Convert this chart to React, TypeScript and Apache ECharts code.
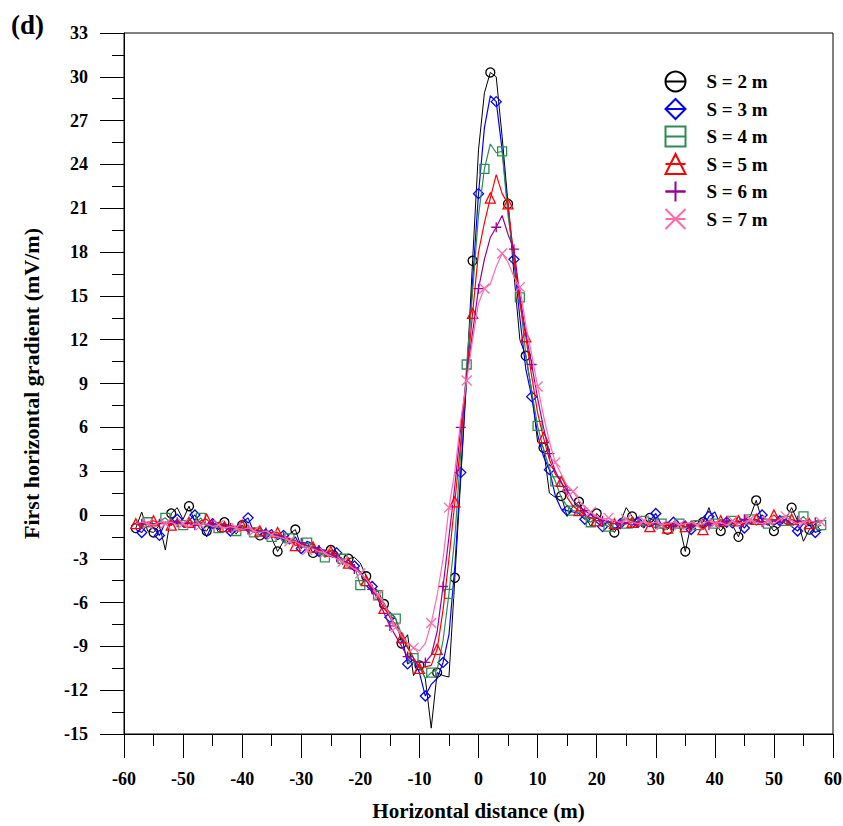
import React, { useEffect, useRef } from "react";
import * as echarts from "echarts";

// Horizontal distance (m)
const DISTANCE = [
  -58, -57, -56, -55, -54, -53, -52, -51, -50, -49,
  -48, -47, -46, -45, -44, -43, -42, -41, -40, -39,
  -38, -37, -36, -35, -34, -33, -32, -31, -30, -29,
  -28, -27, -26, -25, -24, -23, -22, -21, -20, -19,
  -18, -17, -16, -15, -14, -13, -12, -11, -10, -9,
  -8, -7, -6, -5, -4, -3, -2, -1, 0, 1,
  2, 3, 4, 5, 6, 7, 8, 9, 10, 11,
  12, 13, 14, 15, 16, 17, 18, 19, 20, 21,
  22, 23, 24, 25, 26, 27, 28, 29, 30, 31,
  32, 33, 34, 35, 36, 37, 38, 39, 40, 41,
  42, 43, 44, 45, 46, 47, 48, 49, 50, 51,
  52, 53, 54, 55, 56, 57, 58,
];

const S2 = [
  -0.9, 0.2, -1.1, -1.2, -0.7, -2.4, 0.1, 0.5, -0.3, 0.6,
  -0.5, -1.0, -1.1, -0.4, -1.2, -0.5, -0.9, -1.3, -0.7, -1.2,
  -0.9, -1.4, -1.0, -1.6, -2.5, -1.8, -1.3, -1.0, -2.2, -1.9,
  -2.6, -2.1, -2.8, -2.4, -2.5, -3.4, -3.0, -2.9, -3.3, -4.2,
  -5.4, -5.2, -6.1, -7.0, -7.1, -8.8, -8.2, -11.0, -10.3, -11.2,
  -14.6, -10.8, -11.0, -11.1, -4.3, 2.5, 9.5, 17.4, 25.0, 28.9,
  30.3, 30.0, 25.9, 21.3, 16.5, 12.0, 10.9, 8.5, 5.0, 4.6,
  1.5, 1.2, 1.3, -0.1, 0.6, 0.9, 0.0, -0.8, 0.1, -0.3,
  -0.6, -1.2, -0.5, 0.5, -0.1, -0.6, -0.9, -0.2, -0.5, -0.9,
  -1.0, -0.5, -0.7, -2.5, -0.6, -0.4, -0.5, 0.5, -0.6, -1.1,
  -0.5, -0.7, -1.5, -0.3, -0.1, 1.0, -0.4, -0.6, -1.1, -0.8,
  -0.3, 0.5, -0.4, -1.8, -1.0, -0.6, -1.1,
];

const S3 = [
  -1.0, -1.2, -0.6, -0.9, -1.4, -0.5, -0.7, -0.3, -0.8, -0.4,
  0.0, -0.7, -1.5, -0.6, -1.0, -0.6, -1.1, -0.8, -0.5, -0.2,
  -1.2, -0.9, -1.3, -1.0, -1.7, -1.4, -2.0, -1.5, -2.3, -1.8,
  -2.0, -2.5, -2.4, -2.8, -2.6, -3.3, -3.1, -3.5, -3.9, -4.5,
  -4.9, -5.6, -6.1, -7.0, -7.6, -8.3, -10.2, -9.9, -10.8, -12.4,
  -11.6, -11.2, -10.1, -8.2, -3.5, 2.9, 9.5, 16.0, 22.0, 26.5,
  28.7, 28.3, 25.0, 21.0, 17.5, 13.5, 10.0, 8.1, 5.5, 4.0,
  3.1, 1.3, 0.4, 0.3, 0.2, 0.1, -0.3, 0.1, -0.5, -0.8,
  -0.4, -1.0, -0.6, -0.2, -0.9, -0.5, -0.8, -0.4, 0.1, -0.7,
  -0.9, -0.5, -0.8, -0.4, -1.0, -0.6, -0.9, -0.1, 0.2, -0.7,
  -0.5, -0.9, -0.4, -0.9, -0.3, -0.5, 0.0, -0.4, -0.7, -0.4,
  -0.3, -0.8, -1.1, -0.6, -0.7, -1.2, -1.0,
];

const S4 = [
  -0.6, -0.8, -0.5, -0.7, -0.4, -0.2, -0.6, -0.5, -0.7, -0.3,
  -0.6, -0.2, -0.8, -0.6, -0.9, -0.7, -0.8, -1.1, -0.8, -1.0,
  -1.2, -0.9, -1.2, -1.5, -1.3, -1.9, -1.6, -1.8, -2.2, -1.9,
  -2.1, -2.4, -2.9, -2.7, -2.8, -3.0, -3.6, -3.5, -4.8, -4.4,
  -4.9, -5.5, -6.1, -6.7, -7.1, -8.2, -9.0, -9.8, -10.4, -11.2,
  -10.8, -10.6, -8.6, -5.4, -1.5, 4.3, 10.3, 15.3, 20.5, 23.7,
  25.4, 24.8, 24.9, 20.5, 17.5, 14.9, 11.0, 8.5, 6.1, 4.5,
  3.2, 2.3, 1.2, 0.6, 0.3, 0.2, -0.2, -0.5, -0.1, -0.6,
  -0.8, -0.4, -0.7, -0.6, -0.3, -0.8, -0.4, -0.7, -0.9, -0.6,
  -0.5, -0.8, -0.6, -0.9, -0.4, -0.7, -0.8, -0.5, -0.6, -0.3,
  -0.6, -0.4, -0.1, -0.5, -0.3, -0.7, -0.4, -0.6, -0.3, -0.5,
  -0.4, -0.8, -0.5, -0.1, -0.6, -0.9, -0.7,
];

const S5 = [
  -0.6, -0.7, -0.5, -0.4, -0.6, -0.5, -0.7, -0.4, -0.6, -0.5,
  -0.7, -0.4, -0.3, -0.7, -0.5, -0.8, -0.7, -0.9, -0.7, -1.0,
  -0.9, -1.1, -1.2, -1.2, -1.2, -1.6, -1.6, -2.1, -2.0, -2.1,
  -2.2, -2.3, -2.6, -2.5, -2.9, -3.2, -3.3, -3.6, -4.0, -4.5,
  -5.0, -5.6, -6.4, -6.9, -7.6, -8.4, -9.1, -9.8, -10.5, -10.4,
  -10.3, -9.2, -6.5, -3.0, 0.9, 5.0, 9.5, 13.8, 18.0, 20.0,
  21.7, 23.3, 22.0, 21.3, 17.5, 14.5, 12.2, 9.5, 7.0, 5.3,
  3.8, 2.8, 2.3, 1.2, 0.6, 0.3, 0.0, -0.2, -0.4, -0.3,
  -0.5, -0.6, -0.4, -0.6, -0.5, -0.7, -0.6, -0.8, -0.6, -0.7,
  -0.9, -0.6, -0.7, -0.8, -0.6, -0.7, -1.0, -0.6, -0.5, -0.4,
  -0.7, -0.5, -0.4, -0.6, -0.5, -0.3, -0.5, -0.4, 0.0, -0.4,
  -0.6, -0.3, -0.5, -0.4, -0.6, -0.5, -0.5,
];

const S6 = [
  -0.5, -0.6, -0.5, -0.6, -0.6, -0.5, -0.6, -0.5, -0.6, -0.6,
  -0.7, -0.6, -0.7, -0.6, -0.8, -0.7, -0.9, -0.8, -0.9, -1.0,
  -1.0, -1.1, -1.2, -1.3, -1.4, -1.5, -1.7, -1.8, -1.9, -2.1,
  -2.2, -2.4, -2.5, -2.7, -2.9, -3.1, -3.4, -3.7, -4.0, -4.5,
  -5.1, -5.8, -6.7, -7.6, -8.3, -9.0, -9.7, -10.0, -10.1, -10.1,
  -9.6, -8.0, -4.9, -1.5, 2.0, 6.0, 9.5, 12.5, 15.5, 17.5,
  19.0, 19.7, 20.5, 19.2, 18.2, 15.0, 12.5, 10.3, 8.0, 6.0,
  4.2, 3.0, 2.2, 1.7, 1.0, 0.6, 0.3, 0.0, -0.2, -0.4,
  -0.5, -0.4, -0.6, -0.5, -0.7, -0.5, -0.6, -0.8, -0.6, -0.7,
  -0.5, -0.8, -0.6, -0.5, -0.8, -0.6, -0.3, -0.7, -0.5, -0.7,
  -0.4, -0.6, -0.5, -0.3, -0.6, -0.4, -0.5, -0.7, -0.4, -0.5,
  -0.3, -0.6, -0.4, -0.5, -0.4, -0.5, -0.5,
];

const S7 = [
  -0.6, -0.5, -0.6, -0.7, -0.5, -0.6, -0.5, -0.7, -0.6, -0.8,
  -0.6, -0.7, -0.6, -0.8, -0.7, -0.9, -0.8, -0.9, -1.0, -0.9,
  -1.1, -1.2, -1.1, -1.4, -1.5, -1.6, -1.8, -1.8, -2.1, -2.4,
  -2.3, -2.5, -2.6, -2.8, -3.0, -3.2, -3.4, -3.7, -4.0, -4.4,
  -4.9, -5.5, -6.1, -6.9, -7.7, -8.3, -8.8, -9.1, -9.3, -8.8,
  -7.4, -5.5, -3.0, 0.5, 3.0, 6.5, 9.2, 12.0, 14.5, 15.5,
  15.8, 17.0, 17.9, 17.3, 16.3, 15.6, 13.0, 11.0, 8.8, 6.8,
  5.0, 3.6, 2.8, 2.0, 1.6, 1.0, 0.5, 0.2, -0.1, -0.3,
  -0.2, -0.4, -0.5, -0.3, -0.5, -0.6, -0.4, -0.6, -0.5, -0.7,
  -0.6, -0.5, -0.7, -0.6, -0.5, -0.7, -0.6, -0.4, -0.6, -0.5,
  -0.7, -0.4, -0.6, -0.5, -0.3, -0.5, -0.6, -0.4, -0.6, -0.3,
  -0.1, -0.4, -0.6, -0.5, -0.4, -0.5, -0.5,
];

const SERIES_NAMES = ["S = 2 m", "S = 3 m", "S = 4 m", "S = 5 m", "S = 6 m", "S = 7 m"];
const SERIES_VALUES = [S2, S3, S4, S5, S6, S7];

const Y_TICKS_MIN = -15;
const Y_TICKS_MAX = 33;

const FONT = '"Liberation Serif", "Times New Roman", serif';

const STYLES = [
  { color: "#000000", symbol: "circle", size: 9, phase: 2, lw: 1.0 },
  { color: "#0000ff", symbol: "diamond", size: 10, phase: 0, lw: 1.2 },
  { color: "#2e8b57", symbol: "rect", size: 9, phase: 1, lw: 1.2 },
  { color: "#ff0000", symbol: "triangle", size: 10, phase: 2, lw: 1.2 },
  { color: "#990099", symbol: "path://M5,0 L5,10 M0,5 L10,5", size: 10, phase: 0, lw: 1.2 },
  { color: "#ff6aa8", symbol: "path://M0,0 L10,10 M10,0 L0,10", size: 10, phase: 1, lw: 1.2 },
];

export default function App() {
  const ref = useRef<HTMLDivElement>(null);
  useEffect(() => {
    if (!ref.current) return;
    const chart = echarts.init(ref.current, undefined, { renderer: "svg" });
    const series = SERIES_NAMES.map((name, k) => {
      const st = STYLES[k];
      const vals = SERIES_VALUES[k];
      return {
        name,
        type: "line",
        showAllSymbol: true,
        symbol: st.symbol,
        symbolSize: st.size,
        z: 2 + k,
        lineStyle: { color: st.color, width: st.lw },
        itemStyle: { color: "none", borderColor: st.color, borderWidth: 1.3 },
        emphasis: { disabled: true },
        data: DISTANCE.map((x, i) => {
          const isMark = (((x - st.phase) % 3) + 3) % 3 === 0;
          return isMark ? { value: [x, vals[i]] } : { value: [x, vals[i]], symbol: "none" };
        }),
      };
    });
    chart.setOption({
      animation: false,
      backgroundColor: "#ffffff",
      grid: {
        left: 124,
        top: 33,
        right: 10,
        bottom: 92,
        show: true,
        borderColor: "#000",
        borderWidth: 1,
        outerBoundsMode: "none",
        containLabel: false,
      },
      graphic: [
        {
          type: "text",
          left: 11,
          top: 11,
          style: { text: "(d)", font: `bold 27px ${FONT}`, fill: "#000" },
        },
      ],
      legend: {
        orient: "vertical",
        left: 663,
        top: 69,
        padding: 0,
        itemWidth: 20,
        itemHeight: 25,
        itemGap: 2.5,
        selectedMode: false,
        textStyle: { fontFamily: FONT, fontWeight: "bold", fontSize: 19, color: "#000", padding: [0, 0, 0, 16] },
        data: SERIES_NAMES,
      },
      xAxis: {
        type: "value",
        min: -60,
        max: 60,
        interval: 10,
        axisLine: { show: true, onZero: false, lineStyle: { color: "#000", width: 1 } },
        axisTick: { show: true, inside: false, length: 24, lineStyle: { color: "#000" } },
        minorTick: { show: true, splitNumber: 2, length: 12, lineStyle: { color: "#000" } },
        axisLabel: { margin: 36, fontFamily: FONT, fontWeight: "bold", fontSize: 18, color: "#000" },
        splitLine: { show: false },
        name: "Horizontal distance (m)",
        nameLocation: "middle",
        nameGap: 66,
        nameTextStyle: { fontFamily: FONT, fontWeight: "bold", fontSize: 21, color: "#000" },
      },
      yAxis: {
        type: "value",
        min: Y_TICKS_MIN,
        max: Y_TICKS_MAX,
        interval: 3,
        axisLine: { show: true, onZero: false, lineStyle: { color: "#000", width: 1 } },
        axisTick: { show: true, inside: false, length: 24, lineStyle: { color: "#000" } },
        minorTick: { show: true, splitNumber: 2, length: 12, lineStyle: { color: "#000" } },
        axisLabel: { margin: 36, fontFamily: FONT, fontWeight: "bold", fontSize: 18, color: "#000" },
        splitLine: { show: false },
        name: "First horizontal gradient (mV/m)",
        nameLocation: "middle",
        nameGap: 82,
        nameTextStyle: { fontFamily: FONT, fontWeight: "bold", fontSize: 22, color: "#000" },
      },
      series,
    });
    return () => chart.dispose();
  }, []);
  return (
    <div
      ref={ref}
      style={{ position: "fixed", left: 0, top: 0, width: 843, height: 826, background: "#fff" }}
    />
  );
}
